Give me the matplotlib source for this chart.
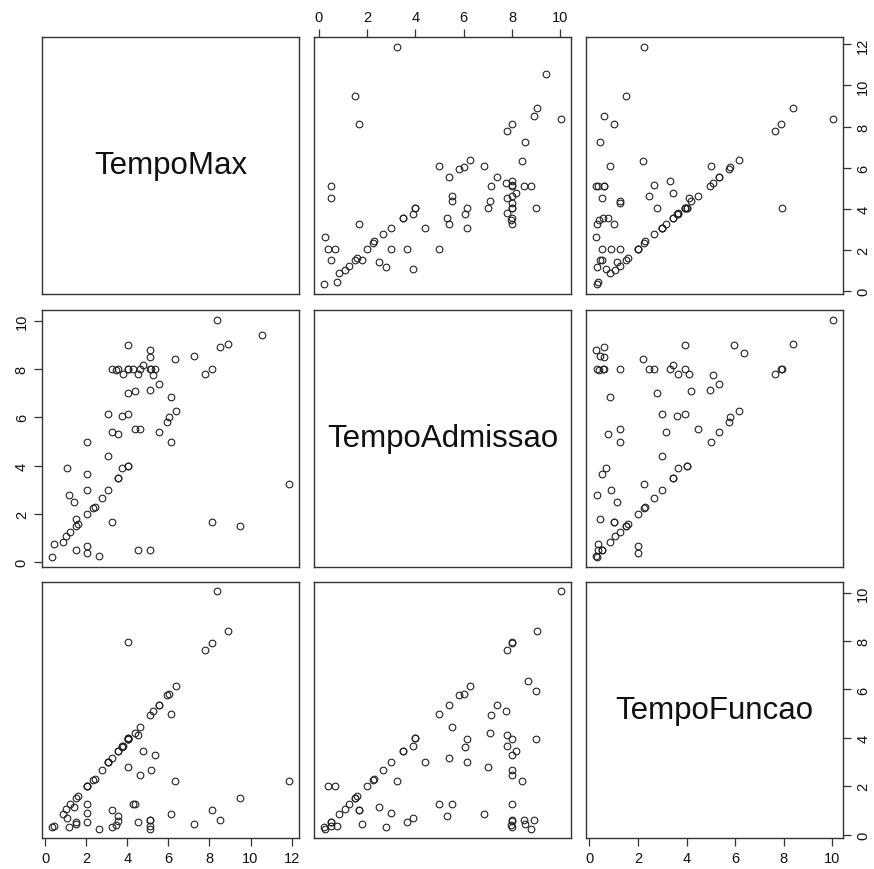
import numpy as np
import matplotlib
matplotlib.use('Agg')
import matplotlib.pyplot as plt

plt.rcParams['font.family'] = ['Liberation Sans', 'DejaVu Sans']

nan = np.nan
# values: (TempoMax, TempoAdmissao, TempoFuncao)
tempo_max = np.array([0.3, 0.4, 0.85, 1.0, 1.2, 1.05, 1.15, 1.4, 1.5, 1.6,
                      1.5, 1.5, 2.05, 2.05, 2.05, 2.05, 2.05, 2.05, 2.3, 2.4,
                      2.6, 2.75, 3.05, 3.05, 3.05, 3.25, 3.25, 3.25, 3.45, 3.55,
                      3.55, 3.55, 3.55, 3.75, 3.8, 3.75, 4.05, 4.05, 4.05, 4.05,
                      4.05, 4.05, 4.05, 4.25, 4.35, 4.35, 4.5, 4.6, 4.5, 4.6,
                      4.75, 5.1, 5.1, 5.1, 5.15, 5.1, 5.1, 5.25, 5.35, 5.55,
                      5.55, 5.95, 6.05, 6.1, 6.1, 6.3, 6.35, 7.25, 7.8, 8.1,
                      8.1, 8.35, 8.5, 8.9, 9.5, 10.55, 11.9, nan, nan])
tempo_admissao = np.array([0.2, 0.75, 0.85, 1.1, 1.25, 3.9, 2.8, 2.5, 1.8, 1.6,
                           1.5, 0.5, 5.0, 3.65, 3.0, 2.0, 0.67, 0.4, 2.25, 2.3,
                           0.25, 2.65, 3.0, 4.4, 6.15, 8.0, 1.65, 5.4, 7.95, 8.0,
                           3.5, 3.5, 5.3, 6.05, 7.8, 3.9, 9.0, 8.0, 8.0, 7.0,
                           6.15, 4.0, 4.0, 8.0, 7.1, 5.5, 7.8, 5.5, 0.5, 8.0,
                           8.15, 8.8, 8.5, 8.0, 8.0, 7.15, 0.5, 7.75, 8.0, 7.4,
                           5.4, 5.8, 6.0, 6.85, 5.0, 8.4, 6.25, 8.55, 7.8, 8.0,
                           1.65, 10.05, 8.9, 9.05, 1.5, 9.4, 3.25, 9.0, 8.65])
tempo_funcao = np.array([0.3, 0.35, 0.85, 1.05, 1.25, 0.7, 0.3, 1.15, 0.45, 1.6,
                         1.5, 0.5, 1.25, 0.5, 0.9, 2.0, 2.0, 2.0, 2.25, 2.3,
                         0.25, 2.65, 3.0, 3.0, 3.0, 0.3, 1.0, 3.15, 0.4, 0.55,
                         3.45, 3.45, 0.75, 3.6, 3.65, 3.65, 3.95, 3.95, 7.95, 2.8,
                         3.95, 4.0, 4.0, 1.25, 4.2, 1.25, 4.1, 4.45, 0.5, 2.45,
                         3.45, 0.25, 0.6, 0.6, 2.65, 4.95, 0.35, 5.1, 3.3, 5.35,
                         5.35, 5.75, 5.8, 0.85, 5.0, 2.2, 6.15, 0.45, 7.65, 7.9,
                         1.0, 10.05, 0.6, 8.4, 1.5, nan, 2.23, 5.95, 6.35])

names = ['TempoMax', 'TempoAdmissao', 'TempoFuncao']
data = [tempo_max, tempo_admissao, tempo_funcao]
ticks = [[0, 2, 4, 6, 8, 10, 12], [0, 2, 4, 6, 8, 10], [0, 2, 4, 6, 8, 10]]

W, H = 874, 870
cols = [(42, 299), (314, 571), (586, 843)]
rows = [(38, 295), (311, 568), (583, 839)]


def lims(v):
    lo, hi = np.nanmin(v), np.nanmax(v)
    pad = 0.04 * (hi - lo)
    return lo - pad, hi + pad


fig = plt.figure(figsize=(W / 100, H / 100), dpi=100)

for i in range(3):
    for j in range(3):
        x0, x1 = cols[j]
        y0, y1 = rows[i]
        ax = fig.add_axes([x0 / W, 1 - y1 / H, (x1 - x0) / W, (y1 - y0) / H])
        ax.set_xlim(lims(data[j]))
        ax.set_ylim(lims(data[i]))
        for s in ax.spines.values():
            s.set_linewidth(1.0)
            s.set_color('#333333')
        ax.tick_params(length=5.5, width=0.9, color='#333333', labelsize=10.5,
                       pad=4, direction='out', labelcolor='#111111')
        ax.set_xticks([])
        ax.set_yticks([])
        if i == j:
            ax.text(0.5, 0.5, names[i], transform=ax.transAxes, ha='center',
                    va='center', fontsize=22.5, color='#111111')
        else:
            ax.plot(data[j], data[i], linestyle='none', marker='o',
                    markersize=4.8, markerfacecolor='none',
                    markeredgecolor='#222222', markeredgewidth=0.8)
        # axes placed like R's pairs()
        if i == 0 and j == 1:
            ax.set_xticks(ticks[j])
            ax.xaxis.tick_top()
        if i == 2 and j in (0, 2):
            ax.set_xticks(ticks[j])
        if j == 0 and i == 1:
            ax.set_yticks(ticks[i])
            ax.tick_params(axis='y', labelrotation=90)
            for t in ax.get_yticklabels():
                t.set_va('center')
        if j == 2 and i in (0, 2):
            ax.set_yticks(ticks[i])
            ax.yaxis.tick_right()
            ax.tick_params(axis='y', labelrotation=90)
            for t in ax.get_yticklabels():
                t.set_va('center')

plt.savefig('out.png', dpi=100)
